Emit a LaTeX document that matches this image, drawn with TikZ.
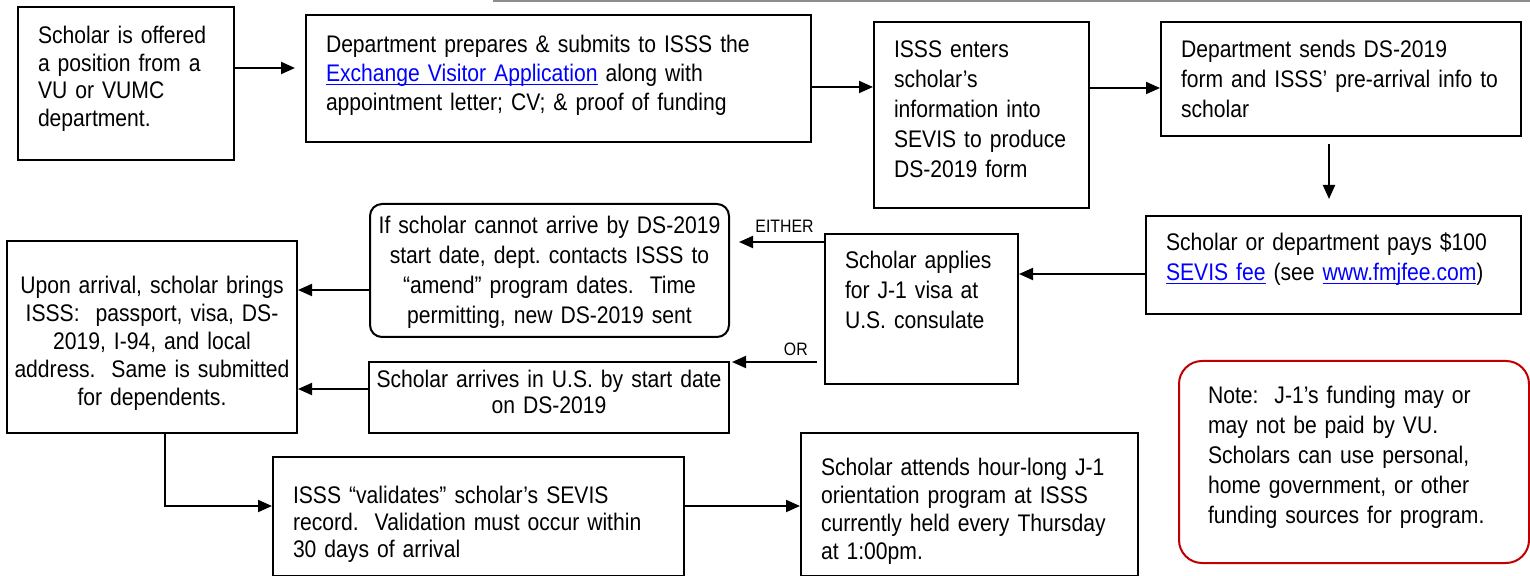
\documentclass[tikz,border=0pt]{standalone}
\usepackage{fontspec}
\setmainfont{Liberation Sans}[FakeStretch=0.88]
\usepackage{xcolor}
\usetikzlibrary{arrows.meta}
\definecolor{linkblue}{HTML}{0000FF}
\definecolor{notered}{HTML}{C00000}
\definecolor{rulegray}{HTML}{8C8C8C}
\newcommand{\weblink}[1]{\textcolor{linkblue}{\setbox0\hbox{#1}\rlap{\rule[-1.6pt]{\wd0}{0.6pt}}\box0}}

\begin{document}
\begin{tikzpicture}[
  x=0.5pt, y=-0.5pt,
  stage/.style={rectangle, draw=black, line width=1pt, anchor=north west,
                inner xsep=10pt, inner ysep=0pt, align=left,
                font=\fontsize{12pt}{15pt}\selectfont},
  leading/.style={font=\fontsize{12pt}{#1}\selectfont},
  centred/.style={stage, align=center, inner xsep=3pt},
  notebox/.style={stage, draw=notered, rounded corners=11.5pt, inner xsep=14.5pt},
  arrow/.style={-{Triangle[length=7pt,width=6pt]}, line width=1pt},
  choice/.style={font=\fontsize{9pt}{10pt}\selectfont, inner sep=1pt}
]
  \useasboundingbox (0,0) rectangle (1530,576);
  \draw[rulegray, line width=1pt] (493,1) -- (1530,1);

  % top row
  \node[stage, leading=13.7pt, text width=88pt, text height=18.5pt, text depth=58pt]
    (offered) at (17,6) {Scholar is offered\\a position from a\\VU or VUMC\\department.};
  \node[stage, leading=14.5pt, text width=232.5pt, text height=19pt, text depth=44.5pt]
    (prepares) at (305,14) {Department prepares \& submits to ISSS the\\\weblink{Exchange Visitor Application} along with\\appointment letter; CV; \& proof of funding};
  \node[stage, text width=87.5pt, text height=18pt, text depth=75pt]
    (enters) at (873,21) {ISSS enters\\scholar’s\\information into\\SEVIS to produce\\DS-2019 form};
  \node[stage, text width=160pt, text height=18pt, text depth=39pt]
    (sends) at (1160,21) {Department sends DS-2019\\form and ISSS’ pre-arrival info to\\scholar};

  % middle row
  \node[stage, text width=167.5pt, text height=17.5pt, text depth=31.5pt]
    (pays) at (1145,215) {Scholar or department pays \$100\\\weblink{SEVIS fee} (see \weblink{www.fmjfee.com})};
  \node[stage, text width=76.5pt, text height=17.5pt, text depth=57.5pt]
    (applies) at (824,233) {Scholar applies\\for J-1 visa at\\U.S. consulate};
  \node[centred, rounded corners=6pt, text width=173.5pt, text height=15pt, text depth=51.5pt]
    (cannot) at (369,203) {If scholar cannot arrive by DS-2019\\start date, dept.\ contacts ISSS to\\``amend'' program dates.\ \ Time\\permitting, new DS-2019 sent};
  \node[centred, leading=13pt, text width=174pt, text height=13pt, text depth=22.5pt]
    (arrives) at (368,361) {Scholar arrives in U.S. by start date\\on DS-2019};
  \node[centred, leading=14pt, text width=139pt, text height=26.5pt, text depth=69.5pt]
    (upon) at (6,240) {Upon arrival, scholar brings\\ISSS:\ \ passport, visa, DS-\\2019, I-94, and local\\address.\ \ Same is submitted\\for dependents.};

  % bottom row
  \node[stage, leading=13.5pt, text width=185.5pt, text height=23pt, text depth=36.5pt]
    (validates) at (272,456) {ISSS ``validates'' scholar’s SEVIS\\record.\ \ Validation must occur within\\30 days of arrival};
  \node[stage, leading=13.9pt, text width=148.5pt, text height=21.5pt, text depth=50pt]
    (attends) at (800,432) {Scholar attends hour-long J-1\\orientation program at ISSS\\currently held every Thursday\\at 1:00pm.};
  \node[notebox, text width=146pt, text height=21.5pt, text depth=79.5pt]
    (note) at (1178,360) {Note:\ \ J-1’s funding may or\\may not be paid by VU.\\Scholars can use personal,\\home government, or other\\funding sources for program.};

  \draw[arrow, shorten >=5pt] ([yshift=7.75pt]offered.east) -- ([yshift=7.75pt]offered.east -| prepares.west);
  \draw[arrow] ([yshift=-4.25pt]prepares.east) -- ([yshift=-4.25pt]prepares.east -| enters.west);
  \draw[arrow] ([yshift=13.5pt]enters.east) -- ([yshift=13.5pt]enters.east -| sends.west);
  \draw[arrow, shorten <=3.5pt, shorten >=8pt] ([xshift=-6pt]sends.south) -- ([xshift=-6pt]sends.south |- pays.north);
  \draw[arrow] ([yshift=-4.5pt]pays.west) -- ([yshift=-4.5pt]pays.west -| applies.east);
  \draw[arrow, shorten >=4.5pt] ([yshift=33.5pt]applies.west) -- node[choice, above=3pt, pos=.42] {EITHER} ([yshift=33.5pt]applies.west -| cannot.east);
  \draw[arrow, shorten <=3.5pt, shorten >=1pt] ([yshift=-26.5pt]applies.west) -- node[choice, above=1.5pt, pos=.3] {OR} ([yshift=-26.5pt]applies.west -| arrives.east);
  \draw[arrow] ([yshift=-9.75pt]cannot.west) -- ([yshift=-9.75pt]cannot.west -| upon.east);
  \draw[arrow] ([yshift=4.25pt]arrives.west) -- ([yshift=4.25pt]arrives.west -| upon.east);
  \draw[arrow] ([xshift=6.5pt]upon.south) |- ([yshift=5.25pt]validates.west);
  \draw[arrow] ([yshift=5.25pt]validates.east) -- ([yshift=5.25pt]validates.east -| attends.west);
\end{tikzpicture}
\end{document}
